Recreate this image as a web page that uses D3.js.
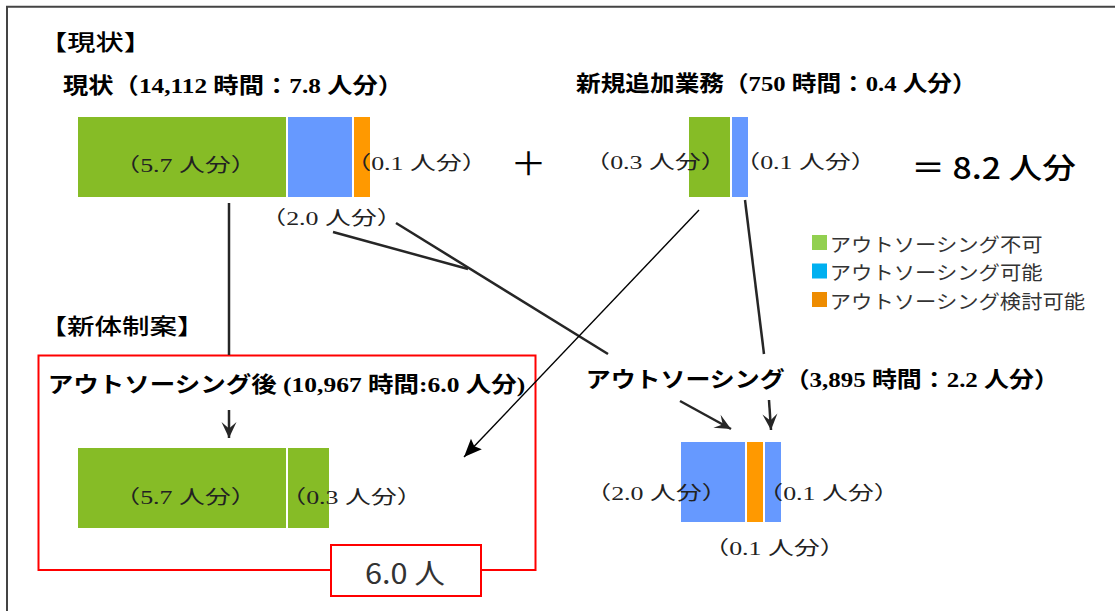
<!DOCTYPE html>
<html lang="ja">
<head>
<meta charset="utf-8">
<script src="https://cdn.jsdelivr.net/npm/d3@7"></script>
<style>
  html, body { margin: 0; padding: 0; background: #fff; }
  svg { display: block; }
</style>
</head>
<body>
<svg id="chart" width="1115" height="611"></svg>
<script>
// ---- data ---------------------------------------------------------------
// share of work per group, in person-equivalents (人分)
const categories = ["アウトソーシング不可", "アウトソーシング可能", "アウトソーシング検討可能"];

const currentValues    = [5.7, 2.0, 0.1];          // 現状
const currentTypes     = [0, 1, 2];
const newWorkValues    = [0.3, 0.1];               // 新規追加業務
const newWorkTypes     = [0, 1];
const afterValues      = [5.7, 0.3];               // アウトソーシング後
const afterTypes       = [0, 0];
const outsourcedValues = [2.0, 0.1, 0.1];          // アウトソーシング
const outsourcedTypes  = [1, 2, 1];

const currentHours = 14112,   currentPeople = 7.8;
const newWorkHours = 750,     newWorkPeople = 0.4;
const afterHours = 10967,     afterPeople = 6.0;
const outsourcedHours = 3895, outsourcedPeople = 2.2;
const totalPeople = 8.2;
const resultPeople = 6.0;

// ---- styles -------------------------------------------------------------
const barColors    = ["#86bc26", "#6699ff", "#ff9900"];
const legendColors = ["#92d050", "#00b0f0", "#ee8c00"];
const SERIF = '"Liberation Serif", "Noto Sans CJK JP", serif';
const SANS  = '"Noto Sans CJK JP", sans-serif';
const INK = "#262626";

const svg = d3.select("#chart");
const fmt = d3.format(",");
const p1 = v => v.toFixed(1);

// text helper: the type is set wide, so each string is stretched
// horizontally to run from inkLeft to inkRight (or by a fixed factor)
const measureCtx = document.createElement("canvas").getContext("2d");
function wideText(parent, str, o) {
  const weight = o.weight || 400;
  measureCtx.font = `${weight} ${o.size}px ${o.font}`;
  const m = measureCtx.measureText(str);
  const aL = m.actualBoundingBoxLeft, aR = m.actualBoundingBoxRight;
  const s = o.stretch || (o.inkRight - o.inkLeft) / (aL + aR);
  const x0 = o.inkLeft + aL * s;
  return parent.append("text")
    .attr("x", x0).attr("y", o.y)
    .attr("dominant-baseline", "central")
    .attr("font-family", o.font).attr("font-size", o.size)
    .attr("font-weight", weight).attr("fill", o.fill || "#000")
    .attr("textLength", m.width * s).attr("lengthAdjust", "spacingAndGlyphs")
    .text(str);
}

// schematic bar widths: small shares are widened so that they stay readable
const widthScale = d3.scaleLinear()
  .domain([0, 0.1, 0.3, 2.0, 5.7])
  .range([0, 16, 41, 64, 208]);
const BAR_H = 80, GAP = 2;

function stack(values, types, x0, y0) {
  let x = x0;
  return values.map((v, i) => {
    const w = widthScale(v);
    const d = { v, type: types[i], x, y: y0, w, h: BAR_H };
    x += w + GAP;
    return d;
  });
}

// ---- frame --------------------------------------------------------------
svg.append("path")
  .attr("d", "M7,611 V6.7 H1115")
  .attr("fill", "none").attr("stroke", "#444").attr("stroke-width", 2);

// ---- markers ------------------------------------------------------------
const defs = svg.append("defs");
defs.append("marker")
  .attr("id", "stealth").attr("markerUnits", "userSpaceOnUse")
  .attr("viewBox", "-17 -9 18 18").attr("refX", 0).attr("refY", 0)
  .attr("markerWidth", 18).attr("markerHeight", 18).attr("orient", "auto")
  .append("path").attr("d", "M0,0 L-16,-7.5 L-9.5,0 L-16,7.5 Z").attr("fill", INK);
defs.append("marker")
  .attr("id", "tri").attr("markerUnits", "userSpaceOnUse")
  .attr("viewBox", "-19 -9 20 18").attr("refX", 0).attr("refY", 0)
  .attr("markerWidth", 20).attr("markerHeight", 18).attr("orient", "auto")
  .append("path").attr("d", "M0,0 L-18,-7.5 L-15,0 L-18,7.5 Z").attr("fill", "#000");

// ---- red frame of the proposal -----------------------------------------
svg.append("rect")
  .attr("x", 38.5).attr("y", 355.5).attr("width", 497).attr("height", 214.5)
  .attr("fill", "none").attr("stroke", "#ff0000").attr("stroke-width", 2);

// ---- connectors ---------------------------------------------------------
const thick = [
  [[229, 203], [229, 355]],     // current green -> proposal
  [[333, 232], [468, 269]],     // outsourcing-ready share joins
  [[396, 223], [608, 354]],     // current outsourcing-ready -> outsourcing
  [[745, 200], [764, 354]]      // new work blue -> outsourcing
];
svg.append("g").selectAll("line").data(thick).join("line")
  .attr("x1", d => d[0][0]).attr("y1", d => d[0][1])
  .attr("x2", d => d[1][0]).attr("y2", d => d[1][1])
  .attr("stroke", INK).attr("stroke-width", 2.5);

const arrows = [
  [[229, 410], [229, 438]],
  [[680, 401], [731, 429]],
  [[769, 400], [771, 430]]
];
svg.append("g").selectAll("line").data(arrows).join("line")
  .attr("x1", d => d[0][0]).attr("y1", d => d[0][1])
  .attr("x2", d => d[1][0]).attr("y2", d => d[1][1])
  .attr("stroke", INK).attr("stroke-width", 2.5)
  .attr("marker-end", "url(#stealth)");

// new work green -> proposal (thin arrow)
svg.append("line")
  .attr("x1", 699).attr("y1", 210).attr("x2", 464).attr("y2", 457)
  .attr("stroke", "#000").attr("stroke-width", 1.4)
  .attr("marker-end", "url(#tri)");

// ---- bars ---------------------------------------------------------------
const groups = [
  stack(currentValues, currentTypes, 78, 117),
  stack(newWorkValues, newWorkTypes, 689, 117),
  stack(afterValues, afterTypes, 78, 448),
  stack(outsourcedValues, outsourcedTypes, 681, 442)
];
svg.append("g").selectAll("rect").data(groups.flat()).join("rect")
  .attr("x", d => d.x).attr("y", d => d.y)
  .attr("width", d => d.w).attr("height", d => d.h)
  .attr("fill", d => barColors[d.type]);

// ---- value labels -------------------------------------------------------
const share = v => `（${p1(v)} 人分）`;
const [cur, nw, aft, out] = groups;
const LABEL_W = 107;
const valueLabels = [
  { v: cur[0].v, left: cur[0].x + 54,  y: 165 },
  { v: cur[2].v, left: cur[2].x + 9,   y: 163 },
  { v: cur[1].v, left: cur[1].x - 10,  y: 218 },
  { v: nw[0].v,  left: nw[0].x - 87,   y: 162 },
  { v: nw[1].v,  left: nw[1].x + 20,   y: 162 },
  { v: aft[0].v, left: aft[0].x + 54,  y: 497 },
  { v: aft[1].v, left: aft[1].x + 10,  y: 497 },
  { v: out[0].v, left: out[0].x - 78,  y: 493 },
  { v: out[2].v, left: out[2].x + 10,  y: 493 },
  { v: out[1].v, left: out[1].x - 26,  y: 548 }
];
const labelG = svg.append("g");
valueLabels.forEach(d => wideText(labelG, share(d.v), {
  font: SERIF, size: 19, fill: "#222", y: d.y, inkLeft: d.left, inkRight: d.left + LABEL_W
}));

// ---- titles -------------------------------------------------------------
const titleG = svg.append("g");
wideText(titleG, "【現状】", { font: SANS, size: 22, weight: 500, y: 40, inkLeft: 57, inkRight: 134 });
wideText(titleG, `現状（${fmt(currentHours)} 時間：${p1(currentPeople)} 人分）`,
  { font: SERIF, size: 22, weight: 700, y: 85, inkLeft: 63, inkRight: 387 });
wideText(titleG, `新規追加業務（${fmt(newWorkHours)} 時間：${p1(newWorkPeople)} 人分）`,
  { font: SERIF, size: 22, weight: 700, y: 83, inkLeft: 576, inkRight: 961 });
wideText(titleG, "【新体制案】", { font: SANS, size: 22, weight: 500, y: 324, inkLeft: 57, inkRight: 187 });
wideText(titleG, `アウトソーシング後 (${fmt(afterHours)} 時間:${p1(afterPeople)} 人分)`,
  { font: SERIF, size: 22, weight: 700, y: 384, inkLeft: 50, inkRight: 525 });
wideText(titleG, `アウトソーシング（${fmt(outsourcedHours)} 時間：${p1(outsourcedPeople)} 人分）`,
  { font: SERIF, size: 22, weight: 700, y: 379, inkLeft: 588, inkRight: 1043 });

// ---- operators and totals ----------------------------------------------
wideText(svg, "＋", { font: SANS, size: 32, weight: 400, fill: "#000", y: 161, inkLeft: 515, inkRight: 542 });
wideText(svg, `＝ ${p1(totalPeople)} 人分`, { font: SANS, size: 29, weight: 500, fill: "#000", y: 166, inkLeft: 916, inkRight: 1076 });

// result badge
svg.append("rect")
  .attr("x", 331).attr("y", 545).attr("width", 150).attr("height", 51)
  .attr("fill", "#fff").attr("stroke", "#ff0000").attr("stroke-width", 2);
wideText(svg, `${p1(resultPeople)} 人`, { font: SANS, size: 28, fill: "#333", y: 572, inkLeft: 366, inkRight: 445 });

// ---- legend -------------------------------------------------------------
const legend = svg.append("g");
categories.forEach((c, i) => {
  const y = 235 + i * 28.5;
  legend.append("rect").attr("x", 812).attr("y", y).attr("width", 15).attr("height", 15)
    .attr("fill", legendColors[i]);
  wideText(legend, c, { font: SANS, size: 19, fill: "#333", y: y + 8, inkLeft: 832, stretch: 1.12 });
});
</script>
</body>
</html>
